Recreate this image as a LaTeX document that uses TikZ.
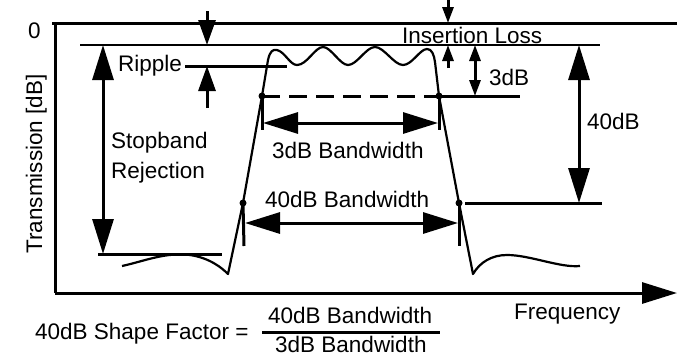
\documentclass[tikz,border=0pt]{standalone}
\usepackage{fontspec}
\setmainfont{Liberation Sans}
\usetikzlibrary{arrows.meta}
\begin{document}
\begin{tikzpicture}[x=1pt,y=-1pt,
  every node/.style={font=\fontsize{22.5}{27}\selectfont, inner sep=0pt},
  heavy/.style={line width=3pt},
  light/.style={line width=2pt},
  curve/.style={line width=2.2pt, line join=round},
  bigtip/.tip={Triangle[length=35pt,width=21pt]},
  midtip/.tip={Triangle[length=25pt,width=17pt]},
  smalltip/.tip={Triangle[length=16pt,width=11pt]},
  dot/.style={circle, fill=black, minimum size=7pt, inner sep=0pt}]
\useasboundingbox (0,0) rectangle (677,356);

% axes
\coordinate (topL) at (52,23);
\coordinate (topR) at (677,23);
\coordinate (origin) at (55,293);
\coordinate (xend) at (677,293);
\draw[heavy] (topL) -- (topR);
\draw[heavy] (55,23) -- (origin);
\draw[heavy,-{bigtip}] (origin) -- (xend);
\node[anchor=base west] (zero) at (28,38) {0};
\node[anchor=base, rotate=90] (ylab) at (42,164) {Transmission [dB]};
\node[anchor=base west] (freq) at (514,319) {Frequency};

% reference lines
\draw[light] (80,45) -- (600,45);
\draw[heavy] (185,66) -- (287,66);
\draw[heavy] (98,254) -- (222,254);
\draw[heavy] (465,203) -- (602,203);
\draw[heavy] (439,96) -- (520,96);
\draw[heavy, dash pattern=on 18pt off 9pt] (262,96) -- (439,96);

% transmission curve
\draw[curve] (122,266) .. controls (145,261) and (165,252) .. (190,255)
  .. controls (210,258) and (222,268) .. (228,274)
  -- (243,203) -- (262,96) -- (268,60)
  .. controls (270,51) and (273,49) .. (277,50)
  .. controls (285,52) and (290,65) .. (297,65)
  .. controls (307,65) and (315,47) .. (323,47)
  .. controls (331,47) and (340,65) .. (348,65)
  .. controls (357,65) and (366,47) .. (375,47)
  .. controls (384,47) and (394,65) .. (403,65)
  .. controls (412,65) and (420,49) .. (427,49)
  .. controls (432,49) and (434,55) .. (435,62)
  -- (439,96) -- (459,203) -- (473,274)
  .. controls (480,262) and (492,255) .. (507,255)
  .. controls (530,255) and (560,268) .. (580,266);

% dots
\node[dot] (d3L) at (262,96) {};
\node[dot] (d3R) at (439,96) {};
\node[dot] (d40L) at (243,203) {};
\node[dot] (d40R) at (459,203) {};

% ripple arrows
\draw[heavy,-{midtip}] (207,11) -- (207,45);
\draw[heavy,-{midtip}] (207,108) -- (207,66);
\node[anchor=base west] (ripple) at (118,71) {Ripple};

% insertion loss arrows
\draw[heavy,-{smalltip}] (448,0) -- (448,23);
\draw[heavy,-{smalltip}] (448,68) -- (448,45);
\node[anchor=base west] (ins) at (402,43) {Insertion Loss};

% 3dB arrow
\draw[heavy,{smalltip}-{smalltip}] (475,45) -- (475,96);
\node[anchor=base west] (l3) at (489,85) {3dB};

% 40dB arrow
\draw[heavy,{bigtip}-{bigtip}] (579,45) -- (579,203);
\node[anchor=base west] (l40) at (587,129) {40dB};

% stopband rejection arrow
\draw[heavy,{bigtip}-{bigtip}] (103,45) -- (103,254);
\node[anchor=base west] (sb1) at (111,148) {Stopband};
\node[anchor=base west] (sb2) at (111,178) {Rejection};

% 3dB bandwidth
\draw[heavy] (d3L.center) -- (262,130);
\draw[heavy] (d3R.center) -- (439,130);
\draw[heavy,{bigtip}-{bigtip}] (263,123) -- (438,123);
\node[anchor=base west] (bw3) at (272,158) {3dB Bandwidth};

% 40dB bandwidth
\draw[heavy] (d40L.center) -- (244,246);
\draw[heavy] (d40R.center) -- (459,246);
\draw[heavy,{bigtip}-{bigtip}] (245,223) -- (458,223);
\node[anchor=base west] (bw40) at (265,207) {40dB Bandwidth};

% shape factor formula
\node[anchor=base west] (sf) at (35,339) {40dB Shape Factor =};
\draw[heavy] (262,332) -- (440,332);
\node[anchor=base west] (num) at (268,323) {40dB Bandwidth};
\node[anchor=base west] (den) at (275,352) {3dB Bandwidth};
\end{tikzpicture}
\end{document}
